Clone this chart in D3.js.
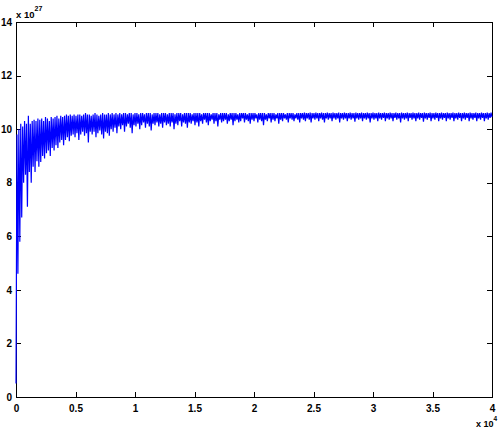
<!DOCTYPE html>
<html><head><meta charset="utf-8">
<script src="https://cdn.jsdelivr.net/npm/d3@7"></script>
<style>body{margin:0;background:#fff}svg{display:block}text{font-family:"Liberation Sans",Arial,sans-serif;font-weight:bold;fill:#000}</style>
</head><body>
<script>
// Data (y in units of 1e27, x sampled every 80)
const xStep = 80;
const yValues = [
0.5, 9.8, 4.6, 10.0, 5.8, 10.2, 6.7, 10.1, 8.0, 10.3, 8.3, 10.2, 7.1, 10.5, 8.4, 10.2, 8.0, 10.3, 8.6, 10.35,
8.4, 10.3, 8.8, 10.4, 8.6, 10.35, 8.77, 10.4, 9.0, 10.3,
8.9, 10.45, 9.1, 10.4, 9.2, 10.3, 9.0, 10.45, 9.3, 10.4,
9.2, 10.45, 9.4, 10.5, 9.3, 10.4, 9.5, 10.5, 9.6, 10.45,
9.4, 10.5, 9.6, 10.55, 9.7, 10.5, 9.55, 10.55, 9.75, 10.5,
9.8, 10.55, 9.7, 10.5, 9.85, 10.55, 9.6, 10.55, 9.8, 10.5,
9.9, 10.55, 9.75, 10.6, 9.85, 10.55, 9.5, 10.55, 9.9, 10.5,
9.8, 10.55, 9.9, 10.6, 9.7, 10.55, 9.85, 10.5, 9.95, 10.55,
9.8, 10.6, 9.65, 10.55, 9.9, 10.55, 9.85, 10.6, 9.75, 10.55,
10.0, 10.6, 9.9, 10.55, 10.05, 10.6, 9.85, 10.55, 10.1, 10.6,
10.0, 10.55, 10.15, 10.6, 9.9, 10.6, 10.1, 10.55, 10.2, 10.6,
10.05, 10.6, 9.85, 10.55, 10.15, 10.6, 10.1, 10.6, 10.2, 10.55,
10.0, 10.6, 10.15, 10.6, 10.25, 10.55, 10.05, 10.6, 10.2, 10.6,
10.1, 10.6, 9.95, 10.55, 10.2, 10.6, 10.15, 10.6, 10.25, 10.6,
10.1, 10.55, 10.2, 10.6, 10.05, 10.6, 10.25, 10.6, 10.15, 10.55,
10.2, 10.6, 10.1, 10.6, 10.25, 10.6, 10.0, 10.55, 10.2, 10.6,
10.15, 10.6, 10.3, 10.6, 10.1, 10.55, 10.25, 10.6, 10.2, 10.6,
10.05, 10.6, 10.25, 10.6, 10.2, 10.55, 10.3, 10.6, 10.15, 10.6,
10.25, 10.6, 10.1, 10.6, 10.3, 10.55, 10.2, 10.6, 10.35, 10.6,
10.25, 10.6, 10.15, 10.6, 10.3, 10.55, 10.35, 10.6, 10.2, 10.6,
10.3, 10.6, 10.1, 10.55, 10.35, 10.6, 10.25, 10.6, 10.3, 10.6,
10.35, 10.6, 10.2, 10.55, 10.3, 10.6, 10.35, 10.6, 10.15, 10.6,
10.3, 10.6, 10.35, 10.55, 10.25, 10.6, 10.3, 10.6, 10.4, 10.6,
10.25, 10.6, 10.35, 10.55, 10.3, 10.6, 10.2, 10.6, 10.35, 10.6,
10.3, 10.6, 10.4, 10.55, 10.25, 10.6, 10.35, 10.6, 10.3, 10.6,
10.15, 10.6, 10.35, 10.55, 10.3, 10.6, 10.4, 10.6, 10.25, 10.6,
10.35, 10.6, 10.3, 10.55, 10.4, 10.6, 10.2, 10.6, 10.35, 10.6,
10.3, 10.6, 10.4, 10.55, 10.35, 10.6, 10.25, 10.6, 10.4, 10.6,
10.35, 10.6, 10.3, 10.55, 10.4, 10.6, 10.35, 10.6, 10.25, 10.6,
10.4, 10.6, 10.35, 10.62, 10.3, 10.6, 10.4, 10.6, 10.35, 10.62,
10.25, 10.6, 10.4, 10.6, 10.35, 10.62, 10.4, 10.6, 10.3, 10.6,
10.4, 10.62, 10.35, 10.6, 10.25, 10.6, 10.4, 10.62, 10.35, 10.6,
10.4, 10.6, 10.3, 10.62, 10.4, 10.6, 10.35, 10.6, 10.4, 10.62,
10.25, 10.6, 10.4, 10.6, 10.35, 10.62, 10.4, 10.6, 10.3, 10.6,
10.4, 10.62, 10.35, 10.6, 10.4, 10.6, 10.28, 10.62, 10.4, 10.6,
10.35, 10.6, 10.4, 10.62, 10.3, 10.6, 10.4, 10.6, 10.35, 10.62,
10.4, 10.6, 10.25, 10.6, 10.4, 10.62, 10.35, 10.6, 10.4, 10.6,
10.3, 10.62, 10.4, 10.6, 10.35, 10.6, 10.42, 10.62, 10.3, 10.6,
10.4, 10.6, 10.35, 10.62, 10.4, 10.6, 10.3, 10.6, 10.42, 10.62,
10.35, 10.6, 10.4, 10.6, 10.25, 10.62, 10.4, 10.6, 10.35, 10.6,
10.4, 10.62, 10.3, 10.6, 10.42, 10.6, 10.35, 10.62, 10.4, 10.6,
10.3, 10.6, 10.4, 10.62, 10.35, 10.6, 10.42, 10.6, 10.28, 10.62,
10.4, 10.6, 10.35, 10.6, 10.42, 10.62, 10.3, 10.6, 10.4, 10.6,
10.35, 10.62, 10.42, 10.6, 10.3, 10.6, 10.4, 10.62, 10.35, 10.6,
10.42, 10.6, 10.3, 10.62, 10.4, 10.6, 10.35, 10.6, 10.42, 10.62,
10.3, 10.6, 10.4, 10.6, 10.35, 10.62, 10.42, 10.6, 10.3, 10.6,
10.4, 10.62, 10.35, 10.6, 10.42, 10.6, 10.3, 10.62, 10.4, 10.6,
10.35, 10.6, 10.42, 10.62, 10.3, 10.6, 10.4, 10.6, 10.35, 10.62,
10.42, 10.6, 10.3, 10.6, 10.4, 10.62, 10.35, 10.6, 10.42, 10.62,
10.45
];
const xTicks = [0, 5000, 10000, 15000, 20000, 25000, 30000, 35000, 40000];
const xTickLabels = ["0", "0.5", "1", "1.5", "2", "2.5", "3", "3.5", "4"];
const yTicks = [0, 2, 4, 6, 8, 10, 12, 14];
const yTickLabels = ["0", "2", "4", "6", "8", "10", "12", "14"];

const W = 499, H = 431;
const L = 16, R = 492, T = 22, B = 397;
const svg = d3.select("body").append("svg").attr("width", W).attr("height", H);
const x = d3.scaleLinear().domain([0, 40000]).range([L, R]);
const y = d3.scaleLinear().domain([0, 14]).range([B, T]);

const gB = svg.append("g").attr("transform", `translate(0,${B})`)
  .call(d3.axisBottom(x).tickValues(xTicks).tickSize(-5).tickPadding(8).tickFormat((d, i) => xTickLabels[i]));
const gT = svg.append("g").attr("transform", `translate(0,${T})`)
  .call(d3.axisTop(x).tickValues(xTicks).tickSize(-5).tickFormat(""));
const gL = svg.append("g").attr("transform", `translate(${L},0)`)
  .call(d3.axisLeft(y).tickValues(yTicks).tickSize(-5).tickPadding(4).tickFormat((d, i) => yTickLabels[i]));
const gR = svg.append("g").attr("transform", `translate(${R},0)`)
  .call(d3.axisRight(y).tickValues(yTicks).tickSize(-5).tickFormat(""));
[gB, gT, gL, gR].forEach(g => {
  g.select(".domain").attr("stroke", "#000").attr("shape-rendering", "crispEdges");
  g.selectAll(".tick line").attr("stroke", "#000").attr("shape-rendering", "crispEdges");
  g.selectAll("text").attr("font-size", 10).attr("font-family", "Liberation Sans, Arial, sans-serif").attr("font-weight", "bold").attr("fill", "#000");
});

const pts = yValues.map((v, i) => [i * xStep, v]);
svg.append("path").datum(pts)
  .attr("fill", "none").attr("stroke", "#0000ff").attr("stroke-width", 1.2)
  .attr("stroke-linejoin", "miter").attr("stroke-miterlimit", 2)
  .attr("d", d3.line().x(d => x(d[0])).y(d => y(d[1])));

// exponent labels
const e1 = svg.append("text").attr("x", 16).attr("y", 18).attr("font-size", 9.5);
e1.append("tspan").text("x 10");
e1.append("tspan").attr("font-size", 7).attr("dy", -7).text("27");
const e2 = svg.append("text").attr("x", 476).attr("y", 427).attr("font-size", 9);
e2.append("tspan").text("x 10");
e2.append("tspan").attr("font-size", 6.5).attr("dy", -6).text("4");
</script>
</body></html>
